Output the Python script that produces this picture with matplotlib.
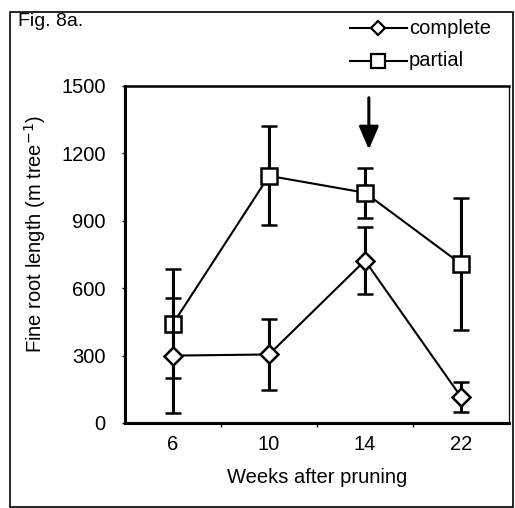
import matplotlib
matplotlib.use("Agg")
import matplotlib.pyplot as plt
from matplotlib.patches import Rectangle
from matplotlib.lines import Line2D

plt.rcParams['font.family'] = ['Liberation Sans', 'DejaVu Sans']

weeks = ['6', '10', '14', '22']
complete = [300, 305, 723, 116]
complete_err = [255, 158, 150, 68]
partial = [442, 1100, 1025, 708]
partial_err = [243, 220, 112, 292]
y_ticks = [0, 300, 600, 900, 1200, 1500]

fs = 14.5

fig = plt.figure(figsize=(5.15, 5.08), dpi=100)
ax = fig.add_axes([125 / 515, 1 - 423 / 508, 384 / 515, 337 / 508])

x = list(range(len(weeks)))
ax.errorbar(x, partial, yerr=partial_err, color='black', lw=1.5, elinewidth=2.2,
            capsize=6, capthick=2.2, marker='s', ms=12, mfc='white', mec='black',
            mew=1.8, zorder=3)
ax.errorbar(x, complete, yerr=complete_err, color='black', lw=1.5, elinewidth=2.2,
            capsize=6, capthick=2.2, marker='D', ms=9, mfc='white', mec='black',
            mew=1.8, zorder=4)

ax.set_xlim(-0.5, len(weeks) - 0.5)
ax.set_ylim(0, 1500)
ax.set_yticks(y_ticks)
ax.set_yticklabels([str(v) for v in y_ticks], fontsize=fs)
ax.set_xticks([i + 0.5 for i in range(len(weeks) - 1)], minor=False)
ax.set_xticklabels([])
ax.set_xticks(x, minor=True)
ax.set_xticklabels(weeks, minor=True, fontsize=fs)
ax.tick_params(axis='x', which='minor', length=0, pad=9)
ax.tick_params(axis='x', which='major', length=3, width=1, direction='out')
ax.tick_params(axis='y', length=2, width=1, pad=12)

for side in ['left', 'bottom']:
    ax.spines[side].set_linewidth(2.2)
ax.spines['top'].set_linewidth(1.8)
ax.spines['right'].set_linewidth(0.9)

ax.set_xlabel('Weeks after pruning', fontsize=fs, labelpad=10)
ax.set_ylabel('Fine root length (m tree$^{-1}$)', fontsize=fs)
ax.yaxis.set_label_coords(-0.2, 0.56)

# arrow marking week 14
ax.annotate('', xy=(2.04, 1205), xytext=(2.04, 1460),
            arrowprops=dict(arrowstyle='-|>,head_length=1.4,head_width=0.6',
                            color='black', lw=2.2))

# outer frame
fig.patches.append(Rectangle((10 / 515, 1 / 508), 503 / 515, 495 / 508,
                             transform=fig.transFigure, fill=False,
                             lw=1.2, ec='black'))
fig.text(18 / 515, 1 - 21 / 508, 'Fig. 8a.', fontsize=14, va='center')

# legend drawn by hand at the top right
for yy, mk, ms, label in [(28, 'D', 7, 'complete'), (61, 's', 10, 'partial')]:
    yf = 1 - yy / 508
    fig.lines.append(Line2D([350 / 515, 407 / 515], [yf, yf], transform=fig.transFigure,
                            color='black', lw=1.5))
    fig.lines.append(Line2D([378 / 515], [yf], transform=fig.transFigure, marker=mk,
                            ms=ms, mfc='white', mec='black', mew=1.6))
    fig.text(409 / 515, yf, label, fontsize=fs, va='center')

fig.savefig('out.png', dpi=100)
